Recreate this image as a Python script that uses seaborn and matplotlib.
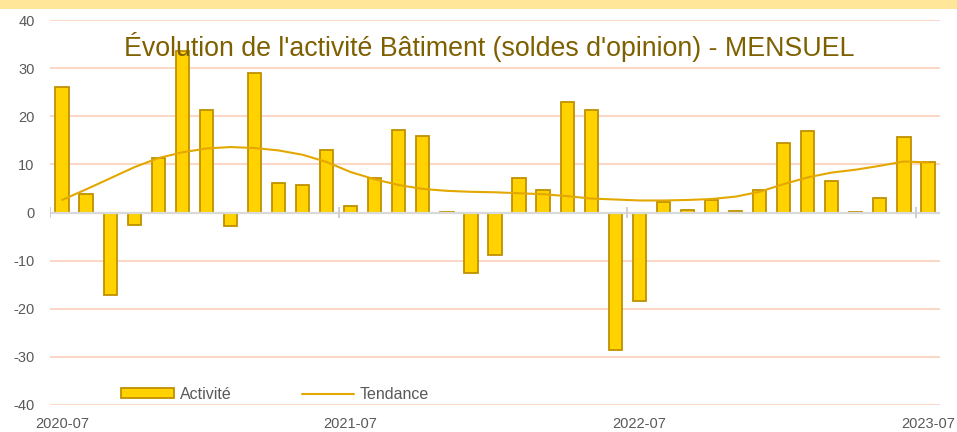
import matplotlib
matplotlib.use("Agg")
import matplotlib.pyplot as plt
from matplotlib.patches import Rectangle
import numpy as np
import pandas as pd
import seaborn as sns

# Monthly building-activity opinion balances, July 2020 to July 2023
months = pd.date_range("2020-07-01", "2023-07-01", freq="MS").strftime("%Y-%m").tolist()

activite = [26.1, 3.8, -17.2, -2.6, 11.4, 33.5, 21.4, -2.8, 28.9, 6.1,
            5.7, 13.0, 1.4, 7.1, 17.2, 15.9, 0.2, -12.6, -8.9, 7.1,
            4.7, 23.0, 21.4, -28.6, -18.4, 2.1, 0.6, 2.5, 0.4, 4.7,
            14.5, 17.0, 6.6, 0.1, 3.0, 15.7, 10.5]

tendance = [2.6, 4.8, 7.1, 9.4, 11.3, 12.5, 13.3, 13.6, 13.4, 12.9,
            12.0, 10.5, 8.4, 6.9, 5.7, 4.9, 4.5, 4.3, 4.2, 4.0,
            3.8, 3.4, 2.9, 2.7, 2.5, 2.5, 2.6, 2.8, 3.3, 4.3,
            5.9, 7.3, 8.3, 8.9, 9.7, 10.6, 10.4]

yticks = list(range(-40, 41, 10))
xlabel_months = ["2020-07", "2021-07", "2022-07", "2023-07"]

title = "Évolution de l'activité Bâtiment (soldes d'opinion) - MENSUEL"

df = pd.DataFrame({"mois": months, "Activité": activite, "Tendance": tendance})

sns.set_theme(style="white")
plt.rcParams["font.family"] = ["Liberation Sans", "DejaVu Sans"]

fig = plt.figure(figsize=(9.57, 4.32), dpi=100)
ax = fig.add_axes([50 / 957, 27 / 432, 890 / 957, 385 / 432])

# yellow header band
fig.patches.append(Rectangle((0, 423 / 432), 1, 9 / 432, transform=fig.transFigure,
                             facecolor="#FFE699", edgecolor="none", zorder=0))

# horizontal grid
grid_col = "#FBD7C4"
for v in yticks:
    if v != 0:
        ax.axhline(v, color=grid_col, lw=1.4, zorder=0)

sns.barplot(data=df, x="mois", y="Activité", order=months, color="#FFD200",
            edgecolor="#BF9000", linewidth=1.3, width=0.55, saturation=1,
            label="Activité", ax=ax, zorder=2)

pos = np.arange(len(months))
sns.lineplot(x=pos, y=df["Tendance"].to_numpy(), color="#E3A800", lw=1.5,
             label="Tendance", ax=ax, zorder=4)

ax.set_xlim(-0.5, len(months) - 0.5)
ax.set_ylim(-40, 40)

# zero axis with tick marks at yearly boundaries
ax.axhline(0, color="#D9D9D9", lw=1.6, zorder=3)
boundaries = [months.index(m) - 0.5 for m in xlabel_months[:-1]] + [len(months) - 1.5]
ax.vlines(boundaries, -1.15, 1.15, color="#CFCFCF", lw=1.4, zorder=3)

ax.set_xticks([months.index(m) for m in xlabel_months])
ax.set_xticklabels(xlabel_months, fontsize=10.5, color="#595959")
ax.tick_params(axis="x", length=0, pad=9)
ax.set_yticks(yticks)
ax.set_yticklabels([str(v) for v in yticks], fontsize=10.5, color="#595959")
ax.tick_params(axis="y", length=0, pad=11)
ax.set_xlabel("")
ax.set_ylabel("")
for s in ax.spines.values():
    s.set_visible(False)

ax.text(0.494, 0.93, title, transform=ax.transAxes, ha="center", va="center",
        fontsize=19.3, color="#7F6000", zorder=5)

handles, labels = ax.get_legend_handles_labels()
order = [labels.index("Activité"), labels.index("Tendance")]
leg = ax.legend([handles[i] for i in order], [labels[i] for i in order],
                loc="center", bbox_to_anchor=(0.253, 0.028), ncol=2, frameon=False,
                fontsize=11.5, handlelength=3.3, handleheight=0.5,
                columnspacing=4.4, handletextpad=0.35, borderaxespad=0)
for t in leg.get_texts():
    t.set_color("#595959")

fig.savefig("out.png", dpi=100)
